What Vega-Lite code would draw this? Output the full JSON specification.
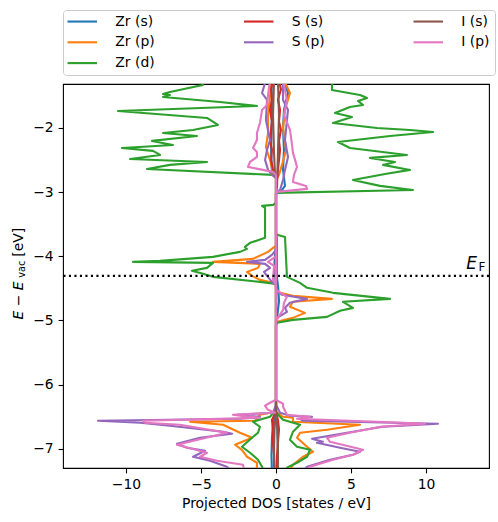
{
  "$schema": "https://vega.github.io/schema/vega-lite/v6.json",
  "width": 426,
  "height": 384,
  "autosize": {"type": "none"},
  "padding": {"left": 63, "top": 84, "right": 9, "bottom": 54},
  "background": "white",
  "config": {
    "font": "DejaVu Sans",
    "view": {"stroke": "black", "strokeWidth": 1.1},
    "axis": {
      "grid": false,
      "domain": false,
      "tickColor": "black",
      "tickSize": 4.9,
      "tickWidth": 1.1,
      "labelColor": "black",
      "labelFontSize": 13.9,
      "labelFont": "DejaVu Sans",
      "labelPadding": 4.9,
      "titleFont": "DejaVu Sans",
      "titleFontSize": 13.9,
      "titleFontWeight": "normal",
      "titleColor": "black"
    }
  },
  "layer": [
    {
      "data": {
        "values": [
          {"o":"Zr (s)","s":"up","E":-1.252,"d":0.47},{"o":"Zr (s)","s":"up","E":-1.455,"d":0.8},{"o":"Zr (s)","s":"up","E":-1.72,"d":0.53},{"o":"Zr (s)","s":"up","E":-2.0,"d":0.47},{"o":"Zr (s)","s":"up","E":-2.343,"d":0.53},{"o":"Zr (s)","s":"up","E":-2.654,"d":0.47},{"o":"Zr (s)","s":"up","E":-2.903,"d":0.6},{"o":"Zr (s)","s":"up","E":-2.997,"d":0.3},{"o":"Zr (s)","s":"up","E":-3.028,"d":0},{"o":"Zr (s)","s":"up","E":-3.667,"d":0},{"o":"Zr (s)","s":"up","E":-3.7,"d":0.05},{"o":"Zr (s)","s":"up","E":-4.3,"d":0.05},{"o":"Zr (s)","s":"up","E":-4.5,"d":0.15},{"o":"Zr (s)","s":"up","E":-4.7,"d":0.2},{"o":"Zr (s)","s":"up","E":-4.9,"d":0.1},{"o":"Zr (s)","s":"up","E":-5.069,"d":0},{"o":"Zr (s)","s":"up","E":-6.424,"d":0},{"o":"Zr (s)","s":"up","E":-6.6,"d":0.07},{"o":"Zr (s)","s":"up","E":-7.0,"d":0.13},{"o":"Zr (s)","s":"up","E":-7.405,"d":0.1},
          {"o":"Zr (s)","s":"down","E":-1.252,"d":-0.3},{"o":"Zr (s)","s":"down","E":-1.8,"d":-0.27},{"o":"Zr (s)","s":"down","E":-2.3,"d":-0.33},{"o":"Zr (s)","s":"down","E":-2.7,"d":-0.27},{"o":"Zr (s)","s":"down","E":-2.779,"d":0},{"o":"Zr (s)","s":"down","E":-3.8,"d":0},{"o":"Zr (s)","s":"down","E":-4.1,"d":-0.1},{"o":"Zr (s)","s":"down","E":-4.3,"d":-0.05},{"o":"Zr (s)","s":"down","E":-4.45,"d":0},{"o":"Zr (s)","s":"down","E":-6.424,"d":0},{"o":"Zr (s)","s":"down","E":-6.6,"d":-0.2},{"o":"Zr (s)","s":"down","E":-6.85,"d":-0.27},{"o":"Zr (s)","s":"down","E":-7.1,"d":-0.3},{"o":"Zr (s)","s":"down","E":-7.405,"d":-0.27},
          {"o":"Zr (p)","s":"up","E":-1.252,"d":0.53},{"o":"Zr (p)","s":"up","E":-1.455,"d":0.93},{"o":"Zr (p)","s":"up","E":-1.72,"d":0.6},{"o":"Zr (p)","s":"up","E":-2.0,"d":0.47},{"o":"Zr (p)","s":"up","E":-2.343,"d":0.67},{"o":"Zr (p)","s":"up","E":-2.576,"d":0.4},{"o":"Zr (p)","s":"up","E":-2.732,"d":0.2},{"o":"Zr (p)","s":"up","E":-2.81,"d":0},{"o":"Zr (p)","s":"up","E":-4.523,"d":0},{"o":"Zr (p)","s":"up","E":-4.57,"d":0.27},{"o":"Zr (p)","s":"up","E":-4.617,"d":1.13},{"o":"Zr (p)","s":"up","E":-4.664,"d":3.73},{"o":"Zr (p)","s":"up","E":-4.71,"d":1.13},{"o":"Zr (p)","s":"up","E":-4.788,"d":0.93},{"o":"Zr (p)","s":"up","E":-4.882,"d":1.93},{"o":"Zr (p)","s":"up","E":-4.96,"d":1.13},{"o":"Zr (p)","s":"up","E":-5.022,"d":0.07},{"o":"Zr (p)","s":"up","E":-5.053,"d":0},{"o":"Zr (p)","s":"up","E":-6.424,"d":0},{"o":"Zr (p)","s":"up","E":-6.502,"d":0.47},{"o":"Zr (p)","s":"up","E":-6.517,"d":1.13},{"o":"Zr (p)","s":"up","E":-6.579,"d":1.13},{"o":"Zr (p)","s":"up","E":-6.626,"d":5.6},{"o":"Zr (p)","s":"up","E":-6.704,"d":3.4},{"o":"Zr (p)","s":"up","E":-6.751,"d":1.6},{"o":"Zr (p)","s":"up","E":-6.829,"d":1.4},{"o":"Zr (p)","s":"up","E":-6.969,"d":2.07},{"o":"Zr (p)","s":"up","E":-7.047,"d":2.47},{"o":"Zr (p)","s":"up","E":-7.125,"d":1.8},{"o":"Zr (p)","s":"up","E":-7.249,"d":1.13},{"o":"Zr (p)","s":"up","E":-7.405,"d":0.8},
          {"o":"Zr (p)","s":"down","E":-1.252,"d":-0.27},{"o":"Zr (p)","s":"down","E":-1.5,"d":-0.4},{"o":"Zr (p)","s":"down","E":-1.8,"d":-0.53},{"o":"Zr (p)","s":"down","E":-2.078,"d":-0.53},{"o":"Zr (p)","s":"down","E":-2.3,"d":-0.67},{"o":"Zr (p)","s":"down","E":-2.5,"d":-0.4},{"o":"Zr (p)","s":"down","E":-2.7,"d":-0.2},{"o":"Zr (p)","s":"down","E":-2.78,"d":0},{"o":"Zr (p)","s":"down","E":-3.838,"d":0},{"o":"Zr (p)","s":"down","E":-3.869,"d":-0.2},{"o":"Zr (p)","s":"down","E":-3.931,"d":-0.53},{"o":"Zr (p)","s":"down","E":-4.04,"d":-1.53},{"o":"Zr (p)","s":"down","E":-4.087,"d":-4.2},{"o":"Zr (p)","s":"down","E":-4.118,"d":-1.07},{"o":"Zr (p)","s":"down","E":-4.181,"d":-1.2},{"o":"Zr (p)","s":"down","E":-4.243,"d":-1.93},{"o":"Zr (p)","s":"down","E":-4.305,"d":-1.6},{"o":"Zr (p)","s":"down","E":-4.368,"d":-1.07},{"o":"Zr (p)","s":"down","E":-4.414,"d":-0.2},{"o":"Zr (p)","s":"down","E":-4.445,"d":0},{"o":"Zr (p)","s":"down","E":-6.424,"d":0},{"o":"Zr (p)","s":"down","E":-6.47,"d":-1.07},{"o":"Zr (p)","s":"down","E":-6.564,"d":-1.4},{"o":"Zr (p)","s":"down","E":-6.579,"d":-5.73},{"o":"Zr (p)","s":"down","E":-6.626,"d":-3.53},{"o":"Zr (p)","s":"down","E":-6.751,"d":-2.4},{"o":"Zr (p)","s":"down","E":-6.829,"d":-1.6},{"o":"Zr (p)","s":"down","E":-6.938,"d":-2.73},{"o":"Zr (p)","s":"down","E":-7.016,"d":-2.27},{"o":"Zr (p)","s":"down","E":-7.125,"d":-1.93},{"o":"Zr (p)","s":"down","E":-7.218,"d":-1.27},{"o":"Zr (p)","s":"down","E":-7.296,"d":-1.27},{"o":"Zr (p)","s":"down","E":-7.405,"d":-1.07},
          {"o":"Zr (d)","s":"up","E":-1.252,"d":3.93},{"o":"Zr (d)","s":"up","E":-1.33,"d":3.73},{"o":"Zr (d)","s":"up","E":-1.408,"d":3.73},{"o":"Zr (d)","s":"up","E":-1.486,"d":5.6},{"o":"Zr (d)","s":"up","E":-1.533,"d":6.07},{"o":"Zr (d)","s":"up","E":-1.579,"d":5.47},{"o":"Zr (d)","s":"up","E":-1.642,"d":5.8},{"o":"Zr (d)","s":"up","E":-1.673,"d":4.93},{"o":"Zr (d)","s":"up","E":-1.766,"d":3.93},{"o":"Zr (d)","s":"up","E":-1.829,"d":5.07},{"o":"Zr (d)","s":"up","E":-1.922,"d":3.8},{"o":"Zr (d)","s":"up","E":-2.0,"d":6.73},{"o":"Zr (d)","s":"up","E":-2.031,"d":8.93},{"o":"Zr (d)","s":"up","E":-2.062,"d":10.47},{"o":"Zr (d)","s":"up","E":-2.125,"d":7.6},{"o":"Zr (d)","s":"up","E":-2.218,"d":4.13},{"o":"Zr (d)","s":"up","E":-2.312,"d":4.93},{"o":"Zr (d)","s":"up","E":-2.421,"d":8.73},{"o":"Zr (d)","s":"up","E":-2.467,"d":6.27},{"o":"Zr (d)","s":"up","E":-2.53,"d":7.93},{"o":"Zr (d)","s":"up","E":-2.576,"d":7.13},{"o":"Zr (d)","s":"up","E":-2.654,"d":8.93},{"o":"Zr (d)","s":"up","E":-2.717,"d":7.27},{"o":"Zr (d)","s":"up","E":-2.81,"d":5.13},{"o":"Zr (d)","s":"up","E":-2.903,"d":6.93},{"o":"Zr (d)","s":"up","E":-2.966,"d":9.13},{"o":"Zr (d)","s":"up","E":-3.012,"d":0},{"o":"Zr (d)","s":"up","E":-3.651,"d":0},{"o":"Zr (d)","s":"up","E":-3.667,"d":0.13},{"o":"Zr (d)","s":"up","E":-3.698,"d":0.6},{"o":"Zr (d)","s":"up","E":-4.321,"d":0.73},{"o":"Zr (d)","s":"up","E":-4.414,"d":1.6},{"o":"Zr (d)","s":"up","E":-4.492,"d":2.07},{"o":"Zr (d)","s":"up","E":-4.57,"d":3.8},{"o":"Zr (d)","s":"up","E":-4.664,"d":7.6},{"o":"Zr (d)","s":"up","E":-4.71,"d":4.47},{"o":"Zr (d)","s":"up","E":-4.804,"d":5.13},{"o":"Zr (d)","s":"up","E":-4.85,"d":4.27},{"o":"Zr (d)","s":"up","E":-4.944,"d":3.4},{"o":"Zr (d)","s":"up","E":-4.991,"d":1.13},{"o":"Zr (d)","s":"up","E":-5.037,"d":0.07},{"o":"Zr (d)","s":"up","E":-5.069,"d":0},{"o":"Zr (d)","s":"up","E":-6.424,"d":0},{"o":"Zr (d)","s":"up","E":-6.502,"d":0.27},{"o":"Zr (d)","s":"up","E":-6.548,"d":0.47},{"o":"Zr (d)","s":"up","E":-6.626,"d":1.6},{"o":"Zr (d)","s":"up","E":-6.735,"d":1.13},{"o":"Zr (d)","s":"up","E":-6.86,"d":0.93},{"o":"Zr (d)","s":"up","E":-6.969,"d":1.4},{"o":"Zr (d)","s":"up","E":-7.016,"d":2.27},{"o":"Zr (d)","s":"up","E":-7.125,"d":2.07},{"o":"Zr (d)","s":"up","E":-7.218,"d":1.4},{"o":"Zr (d)","s":"up","E":-7.296,"d":0.73},{"o":"Zr (d)","s":"up","E":-7.405,"d":0.4},
          {"o":"Zr (d)","s":"down","E":-1.252,"d":-5.07},{"o":"Zr (d)","s":"down","E":-1.33,"d":-4.87},{"o":"Zr (d)","s":"down","E":-1.439,"d":-7.07},{"o":"Zr (d)","s":"down","E":-1.47,"d":-7.53},{"o":"Zr (d)","s":"down","E":-1.486,"d":-7.07},{"o":"Zr (d)","s":"down","E":-1.517,"d":-7.53},{"o":"Zr (d)","s":"down","E":-1.595,"d":-3.73},{"o":"Zr (d)","s":"down","E":-1.657,"d":-1.27},{"o":"Zr (d)","s":"down","E":-1.735,"d":-10.53},{"o":"Zr (d)","s":"down","E":-1.844,"d":-4.6},{"o":"Zr (d)","s":"down","E":-1.953,"d":-3.87},{"o":"Zr (d)","s":"down","E":-2.031,"d":-5.53},{"o":"Zr (d)","s":"down","E":-2.078,"d":-7.53},{"o":"Zr (d)","s":"down","E":-2.125,"d":-5.27},{"o":"Zr (d)","s":"down","E":-2.202,"d":-8.27},{"o":"Zr (d)","s":"down","E":-2.265,"d":-6.87},{"o":"Zr (d)","s":"down","E":-2.312,"d":-10.27},{"o":"Zr (d)","s":"down","E":-2.358,"d":-8.2},{"o":"Zr (d)","s":"down","E":-2.421,"d":-7.73},{"o":"Zr (d)","s":"down","E":-2.483,"d":-9.73},{"o":"Zr (d)","s":"down","E":-2.53,"d":-4.6},{"o":"Zr (d)","s":"down","E":-2.576,"d":-7.07},{"o":"Zr (d)","s":"down","E":-2.639,"d":-8.6},{"o":"Zr (d)","s":"down","E":-2.732,"d":-0.2},{"o":"Zr (d)","s":"down","E":-2.779,"d":0},{"o":"Zr (d)","s":"down","E":-3.168,"d":0},{"o":"Zr (d)","s":"down","E":-3.199,"d":-0.2},{"o":"Zr (d)","s":"down","E":-3.215,"d":-0.93},{"o":"Zr (d)","s":"down","E":-3.246,"d":-0.73},{"o":"Zr (d)","s":"down","E":-3.713,"d":-0.73},{"o":"Zr (d)","s":"down","E":-3.791,"d":-1.73},{"o":"Zr (d)","s":"down","E":-3.854,"d":-2.07},{"o":"Zr (d)","s":"down","E":-3.885,"d":-1.93},{"o":"Zr (d)","s":"down","E":-3.931,"d":-2.4},{"o":"Zr (d)","s":"down","E":-4.009,"d":-4.2},{"o":"Zr (d)","s":"down","E":-4.072,"d":-7.73},{"o":"Zr (d)","s":"down","E":-4.087,"d":-9.53},{"o":"Zr (d)","s":"down","E":-4.103,"d":-4.2},{"o":"Zr (d)","s":"down","E":-4.181,"d":-4.6},{"o":"Zr (d)","s":"down","E":-4.227,"d":-5.6},{"o":"Zr (d)","s":"down","E":-4.274,"d":-4.87},{"o":"Zr (d)","s":"down","E":-4.321,"d":-4.2},{"o":"Zr (d)","s":"down","E":-4.399,"d":-1.07},{"o":"Zr (d)","s":"down","E":-4.43,"d":0},{"o":"Zr (d)","s":"down","E":-6.393,"d":0},{"o":"Zr (d)","s":"down","E":-6.502,"d":-0.4},{"o":"Zr (d)","s":"down","E":-6.579,"d":-1.53},{"o":"Zr (d)","s":"down","E":-6.657,"d":-1.07},{"o":"Zr (d)","s":"down","E":-6.751,"d":-1.2},{"o":"Zr (d)","s":"down","E":-6.829,"d":-1.6},{"o":"Zr (d)","s":"down","E":-6.969,"d":-2.27},{"o":"Zr (d)","s":"down","E":-7.062,"d":-1.73},{"o":"Zr (d)","s":"down","E":-7.171,"d":-1.2},{"o":"Zr (d)","s":"down","E":-7.28,"d":-0.93},{"o":"Zr (d)","s":"down","E":-7.405,"d":-0.73},
          {"o":"S (s)","s":"up","E":-1.252,"d":0.2},{"o":"S (s)","s":"up","E":-1.4,"d":0.33},{"o":"S (s)","s":"up","E":-1.56,"d":0.13},{"o":"S (s)","s":"up","E":-1.72,"d":0.27},{"o":"S (s)","s":"up","E":-1.9,"d":0.2},{"o":"S (s)","s":"up","E":-2.03,"d":0.33},{"o":"S (s)","s":"up","E":-2.2,"d":0.2},{"o":"S (s)","s":"up","E":-2.34,"d":0.27},{"o":"S (s)","s":"up","E":-2.5,"d":0.2},{"o":"S (s)","s":"up","E":-2.65,"d":0.13},{"o":"S (s)","s":"up","E":-2.8,"d":0.07},{"o":"S (s)","s":"up","E":-3.0,"d":0},{"o":"S (s)","s":"up","E":-6.42,"d":0},{"o":"S (s)","s":"up","E":-6.55,"d":0.13},{"o":"S (s)","s":"up","E":-6.7,"d":0.2},{"o":"S (s)","s":"up","E":-6.9,"d":0.13},{"o":"S (s)","s":"up","E":-7.1,"d":0.07},{"o":"S (s)","s":"up","E":-7.405,"d":0.05},
          {"o":"S (s)","s":"down","E":-1.252,"d":-0.2},{"o":"S (s)","s":"down","E":-1.4,"d":-0.33},{"o":"S (s)","s":"down","E":-1.56,"d":-0.27},{"o":"S (s)","s":"down","E":-1.72,"d":-0.4},{"o":"S (s)","s":"down","E":-1.9,"d":-0.27},{"o":"S (s)","s":"down","E":-2.03,"d":-0.33},{"o":"S (s)","s":"down","E":-2.2,"d":-0.4},{"o":"S (s)","s":"down","E":-2.34,"d":-0.27},{"o":"S (s)","s":"down","E":-2.5,"d":-0.33},{"o":"S (s)","s":"down","E":-2.65,"d":-0.2},{"o":"S (s)","s":"down","E":-2.75,"d":0},{"o":"S (s)","s":"down","E":-6.42,"d":0},{"o":"S (s)","s":"down","E":-6.55,"d":-0.27},{"o":"S (s)","s":"down","E":-6.7,"d":-0.2},{"o":"S (s)","s":"down","E":-6.9,"d":-0.2},{"o":"S (s)","s":"down","E":-7.1,"d":-0.13},{"o":"S (s)","s":"down","E":-7.405,"d":-0.07},
          {"o":"S (p)","s":"up","E":-1.252,"d":0.47},{"o":"S (p)","s":"up","E":-1.564,"d":0.47},{"o":"S (p)","s":"up","E":-1.72,"d":0.8},{"o":"S (p)","s":"up","E":-1.875,"d":0.73},{"o":"S (p)","s":"up","E":-2.187,"d":0.6},{"o":"S (p)","s":"up","E":-2.452,"d":0.8},{"o":"S (p)","s":"up","E":-2.654,"d":0.6},{"o":"S (p)","s":"up","E":-2.81,"d":0.47},{"o":"S (p)","s":"up","E":-2.966,"d":0.27},{"o":"S (p)","s":"up","E":-3.012,"d":0},{"o":"S (p)","s":"up","E":-4.523,"d":0},{"o":"S (p)","s":"up","E":-4.601,"d":0.4},{"o":"S (p)","s":"up","E":-4.664,"d":2.07},{"o":"S (p)","s":"up","E":-4.726,"d":0.93},{"o":"S (p)","s":"up","E":-4.804,"d":0.6},{"o":"S (p)","s":"up","E":-4.866,"d":0.73},{"o":"S (p)","s":"up","E":-4.96,"d":0.07},{"o":"S (p)","s":"up","E":-4.991,"d":0},{"o":"S (p)","s":"up","E":-6.315,"d":0},{"o":"S (p)","s":"up","E":-6.439,"d":0.27},{"o":"S (p)","s":"up","E":-6.486,"d":0.93},{"o":"S (p)","s":"up","E":-6.502,"d":2.4},{"o":"S (p)","s":"up","E":-6.533,"d":1.6},{"o":"S (p)","s":"up","E":-6.564,"d":1.8},{"o":"S (p)","s":"up","E":-6.611,"d":10.8},{"o":"S (p)","s":"up","E":-6.657,"d":7.13},{"o":"S (p)","s":"up","E":-6.751,"d":4.73},{"o":"S (p)","s":"up","E":-6.844,"d":2.4},{"o":"S (p)","s":"up","E":-6.891,"d":3.13},{"o":"S (p)","s":"up","E":-6.907,"d":2.73},{"o":"S (p)","s":"up","E":-6.984,"d":4.27},{"o":"S (p)","s":"up","E":-7.047,"d":5.6},{"o":"S (p)","s":"up","E":-7.093,"d":5.13},{"o":"S (p)","s":"up","E":-7.171,"d":3.6},{"o":"S (p)","s":"up","E":-7.28,"d":2.07},{"o":"S (p)","s":"up","E":-7.405,"d":1.6},
          {"o":"S (p)","s":"down","E":-1.252,"d":-0.67},{"o":"S (p)","s":"down","E":-1.455,"d":-0.93},{"o":"S (p)","s":"down","E":-1.564,"d":-0.6},{"o":"S (p)","s":"down","E":-1.875,"d":-0.67},{"o":"S (p)","s":"down","E":-2.187,"d":-0.4},{"o":"S (p)","s":"down","E":-2.343,"d":-0.6},{"o":"S (p)","s":"down","E":-2.498,"d":-0.73},{"o":"S (p)","s":"down","E":-2.654,"d":-0.53},{"o":"S (p)","s":"down","E":-2.732,"d":-0.27},{"o":"S (p)","s":"down","E":-2.779,"d":0},{"o":"S (p)","s":"down","E":-3.9,"d":0},{"o":"S (p)","s":"down","E":-3.978,"d":-0.27},{"o":"S (p)","s":"down","E":-4.056,"d":-0.73},{"o":"S (p)","s":"down","E":-4.087,"d":-1.93},{"o":"S (p)","s":"down","E":-4.118,"d":-0.73},{"o":"S (p)","s":"down","E":-4.181,"d":-0.4},{"o":"S (p)","s":"down","E":-4.243,"d":-0.8},{"o":"S (p)","s":"down","E":-4.305,"d":-0.6},{"o":"S (p)","s":"down","E":-4.399,"d":-0.27},{"o":"S (p)","s":"down","E":-4.445,"d":0},{"o":"S (p)","s":"down","E":-6.315,"d":0},{"o":"S (p)","s":"down","E":-6.439,"d":-0.2},{"o":"S (p)","s":"down","E":-6.47,"d":-2.6},{"o":"S (p)","s":"down","E":-6.502,"d":-1.07},{"o":"S (p)","s":"down","E":-6.533,"d":-2.4},{"o":"S (p)","s":"down","E":-6.564,"d":-11.87},{"o":"S (p)","s":"down","E":-6.595,"d":-9.07},{"o":"S (p)","s":"down","E":-6.642,"d":-7.07},{"o":"S (p)","s":"down","E":-6.735,"d":-3.53},{"o":"S (p)","s":"down","E":-6.766,"d":-2.93},{"o":"S (p)","s":"down","E":-6.829,"d":-5.07},{"o":"S (p)","s":"down","E":-6.922,"d":-6.6},{"o":"S (p)","s":"down","E":-6.984,"d":-5.93},{"o":"S (p)","s":"down","E":-7.031,"d":-4.73},{"o":"S (p)","s":"down","E":-7.125,"d":-5.53},{"o":"S (p)","s":"down","E":-7.187,"d":-4.4},{"o":"S (p)","s":"down","E":-7.28,"d":-3.27},{"o":"S (p)","s":"down","E":-7.405,"d":-2.73},
          {"o":"I (s)","s":"up","E":-1.252,"d":0.13},{"o":"I (s)","s":"up","E":-1.8,"d":0.2},{"o":"I (s)","s":"up","E":-2.4,"d":0.13},{"o":"I (s)","s":"up","E":-2.9,"d":0.07},{"o":"I (s)","s":"up","E":-3.0,"d":0},{"o":"I (s)","s":"up","E":-6.4,"d":0},{"o":"I (s)","s":"up","E":-6.7,"d":0.1},{"o":"I (s)","s":"up","E":-7.0,"d":0.13},{"o":"I (s)","s":"up","E":-7.405,"d":0.13},
          {"o":"I (s)","s":"down","E":-1.252,"d":-0.13},{"o":"I (s)","s":"down","E":-1.8,"d":-0.2},{"o":"I (s)","s":"down","E":-2.4,"d":-0.13},{"o":"I (s)","s":"down","E":-2.7,"d":-0.07},{"o":"I (s)","s":"down","E":-2.8,"d":0},{"o":"I (s)","s":"down","E":-6.4,"d":0},{"o":"I (s)","s":"down","E":-6.7,"d":-0.1},{"o":"I (s)","s":"down","E":-7.0,"d":-0.13},{"o":"I (s)","s":"down","E":-7.405,"d":-0.13},
          {"o":"I (p)","s":"up","E":-1.252,"d":0.47},{"o":"I (p)","s":"up","E":-1.564,"d":0.73},{"o":"I (p)","s":"up","E":-1.798,"d":0.53},{"o":"I (p)","s":"up","E":-2.031,"d":0.93},{"o":"I (p)","s":"up","E":-2.265,"d":1.07},{"o":"I (p)","s":"up","E":-2.389,"d":1.13},{"o":"I (p)","s":"up","E":-2.498,"d":1.27},{"o":"I (p)","s":"up","E":-2.607,"d":1.4},{"o":"I (p)","s":"up","E":-2.732,"d":1.2},{"o":"I (p)","s":"up","E":-2.841,"d":1.13},{"o":"I (p)","s":"up","E":-2.903,"d":2.0},{"o":"I (p)","s":"up","E":-2.95,"d":2.07},{"o":"I (p)","s":"up","E":-2.997,"d":0.07},{"o":"I (p)","s":"up","E":-3.028,"d":0},{"o":"I (p)","s":"up","E":-4.523,"d":0},{"o":"I (p)","s":"up","E":-4.632,"d":0.73},{"o":"I (p)","s":"up","E":-4.726,"d":0.53},{"o":"I (p)","s":"up","E":-4.835,"d":0.47},{"o":"I (p)","s":"up","E":-4.96,"d":0.13},{"o":"I (p)","s":"up","E":-5.022,"d":0},{"o":"I (p)","s":"up","E":-6.237,"d":0},{"o":"I (p)","s":"up","E":-6.299,"d":0.47},{"o":"I (p)","s":"up","E":-6.346,"d":0.47},{"o":"I (p)","s":"up","E":-6.47,"d":0.73},{"o":"I (p)","s":"up","E":-6.502,"d":2.27},{"o":"I (p)","s":"up","E":-6.533,"d":1.4},{"o":"I (p)","s":"up","E":-6.595,"d":8.47},{"o":"I (p)","s":"up","E":-6.611,"d":9.93},{"o":"I (p)","s":"up","E":-6.657,"d":6.93},{"o":"I (p)","s":"up","E":-6.751,"d":4.93},{"o":"I (p)","s":"up","E":-6.829,"d":3.4},{"o":"I (p)","s":"up","E":-6.891,"d":3.6},{"o":"I (p)","s":"up","E":-7.016,"d":5.8},{"o":"I (p)","s":"up","E":-7.093,"d":5.13},{"o":"I (p)","s":"up","E":-7.171,"d":3.8},{"o":"I (p)","s":"up","E":-7.28,"d":2.27},{"o":"I (p)","s":"up","E":-7.405,"d":1.73},
          {"o":"I (p)","s":"down","E":-1.252,"d":-0.4},{"o":"I (p)","s":"down","E":-1.486,"d":-0.53},{"o":"I (p)","s":"down","E":-1.642,"d":-0.6},{"o":"I (p)","s":"down","E":-1.72,"d":-0.93},{"o":"I (p)","s":"down","E":-1.922,"d":-1.07},{"o":"I (p)","s":"down","E":-2.078,"d":-1.27},{"o":"I (p)","s":"down","E":-2.187,"d":-1.27},{"o":"I (p)","s":"down","E":-2.312,"d":-1.53},{"o":"I (p)","s":"down","E":-2.374,"d":-1.27},{"o":"I (p)","s":"down","E":-2.452,"d":-1.27},{"o":"I (p)","s":"down","E":-2.53,"d":-1.73},{"o":"I (p)","s":"down","E":-2.607,"d":-1.87},{"o":"I (p)","s":"down","E":-2.685,"d":-0.2},{"o":"I (p)","s":"down","E":-2.732,"d":0},{"o":"I (p)","s":"down","E":-4.0,"d":0},{"o":"I (p)","s":"down","E":-4.087,"d":-0.53},{"o":"I (p)","s":"down","E":-4.15,"d":-0.13},{"o":"I (p)","s":"down","E":-4.368,"d":-0.2},{"o":"I (p)","s":"down","E":-4.445,"d":0},{"o":"I (p)","s":"down","E":-6.237,"d":0},{"o":"I (p)","s":"down","E":-6.283,"d":-0.4},{"o":"I (p)","s":"down","E":-6.33,"d":-0.73},{"o":"I (p)","s":"down","E":-6.393,"d":-0.53},{"o":"I (p)","s":"down","E":-6.439,"d":-0.07},{"o":"I (p)","s":"down","E":-6.47,"d":-2.87},{"o":"I (p)","s":"down","E":-6.486,"d":-2.4},{"o":"I (p)","s":"down","E":-6.517,"d":-1.07},{"o":"I (p)","s":"down","E":-6.564,"d":-8.87},{"o":"I (p)","s":"down","E":-6.595,"d":-8.73},{"o":"I (p)","s":"down","E":-6.626,"d":-6.4},{"o":"I (p)","s":"down","E":-6.751,"d":-3.27},{"o":"I (p)","s":"down","E":-6.938,"d":-6.6},{"o":"I (p)","s":"down","E":-7.062,"d":-4.6},{"o":"I (p)","s":"down","E":-7.125,"d":-5.07},{"o":"I (p)","s":"down","E":-7.187,"d":-3.93},{"o":"I (p)","s":"down","E":-7.249,"d":-2.2},{"o":"I (p)","s":"down","E":-7.405,"d":-2.07}
        ]
      },
      "mark": {"type": "line", "clip": true, "strokeWidth": 2.1, "strokeJoin": "round"},
      "encoding": {
        "x": {
          "field": "d", "type": "quantitative",
          "scale": {"domain": [-14.2, 14.2], "nice": false, "zero": false},
          "axis": {"values": [-10, -5, 0, 5, 10], "format": "d", "title": "Projected DOS [states / eV]", "titlePadding": 5}
        },
        "y": {
          "field": "E", "type": "quantitative",
          "scale": {"domain": [-7.3, -1.315], "nice": false, "zero": false},
          "axis": {"values": [-7, -6, -5, -4, -3, -2], "format": "d", "title": null}
        },
        "order": {"field": "E", "type": "quantitative"},
        "detail": {"field": "s"},
        "color": {
          "field": "o", "type": "nominal",
          "scale": {
            "domain": ["Zr (s)", "S (s)", "I (s)", "Zr (p)", "S (p)", "I (p)", "Zr (d)"],
            "range": ["#1f77b4", "#d62728", "#8c564b", "#ff7f0e", "#9467bd", "#e377c2", "#2ca02c"]
          },
          "legend": {
            "orient": "none",
            "direction": "horizontal",
            "legendX": 0,
            "legendY": -74,
            "title": null,
            "columns": 3,
            "columnPadding": 83.5,
            "rowPadding": 6.8,
            "padding": 4.5,
            "symbolType": "M-2.5,0H2.5",
            "symbolSize": 139,
            "symbolStrokeWidth": 2.1,
            "symbolOffset": 7.75,
            "labelOffset": 26.1,
            "labelFontSize": 13.9,
            "labelFont": "DejaVu Sans",
            "labelColor": "black",
            "strokeColor": "#cccccc",
            "fillColor": "white",
            "cornerRadius": 3
          }
        }
      }
    },
    {
      "data": {"values": [{}]},
      "mark": {"type": "rule", "color": "black", "strokeWidth": 2.1, "strokeDash": [2.1, 3.4]},
      "encoding": {"y": {"datum": -4.305}}
    },
    {
      "data": {"values": [{}]},
      "mark": {"type": "text", "font": "DejaVu Sans", "fontStyle": "italic", "fontSize": 17, "align": "right", "baseline": "alphabetic", "color": "black"},
      "encoding": {"x": {"datum": 13.4}, "y": {"datum": -4.202}, "text": {"value": "E"}}
    },
    {
      "data": {"values": [{}]},
      "mark": {"type": "text", "font": "DejaVu Sans", "fontSize": 11.9, "align": "left", "baseline": "alphabetic", "color": "black"},
      "encoding": {"x": {"datum": 13.5}, "y": {"datum": -4.222}, "text": {"value": "F"}}
    },
    {
      "data": {"values": [{}]},
      "mark": {"type": "text", "font": "DejaVu Sans", "fontStyle": "italic", "fontSize": 13.9, "align": "left", "baseline": "alphabetic", "angle": 270, "color": "black"},
      "encoding": {"x": {"datum": -16.87}, "y": {"datum": -4.985}, "text": {"value": "E − E"}}
    },
    {
      "data": {"values": [{}]},
      "mark": {"type": "text", "font": "DejaVu Sans", "fontSize": 9.73, "align": "left", "baseline": "alphabetic", "angle": 270, "color": "black"},
      "encoding": {"x": {"datum": -16.73}, "y": {"datum": -4.336}, "text": {"value": "vac"}}
    },
    {
      "data": {"values": [{}]},
      "mark": {"type": "text", "font": "DejaVu Sans", "fontSize": 13.9, "align": "left", "baseline": "alphabetic", "angle": 270, "color": "black"},
      "encoding": {"x": {"datum": -16.87}, "y": {"datum": -4.006}, "text": {"value": "[eV]"}}
    }
  ]
}
